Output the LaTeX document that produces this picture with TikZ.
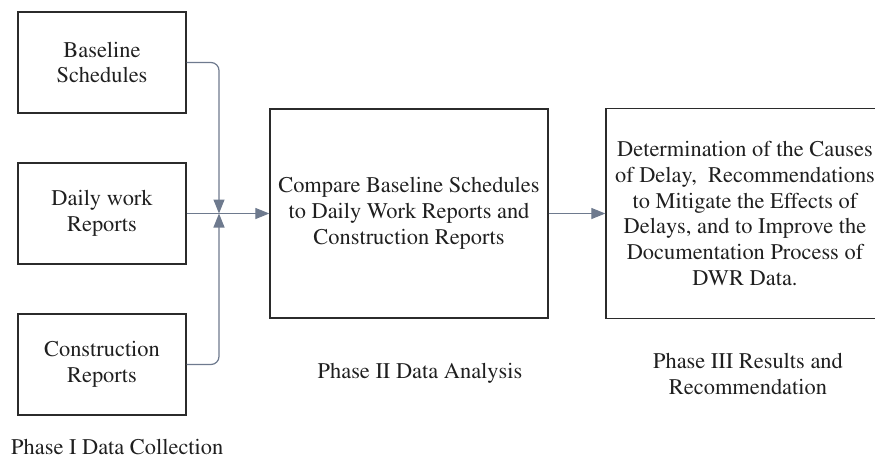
\documentclass[tikz,border=0pt]{standalone}
\usepackage[T1]{fontenc}
\renewcommand{\rmdefault}{ptm}
\usetikzlibrary{arrows.meta}
\definecolor{conncol}{HTML}{6E7A8E}
\definecolor{boxcol}{HTML}{2B2B2B}
\begin{document}
\begin{tikzpicture}[x=1pt,y=-1pt,
  txt/.style={font=\rmfamily\fontsize{22.4}{25.8}\selectfont, align=center, text=black!88},
  box/.style={txt, draw=boxcol, line width=1.3pt, inner sep=0pt},
  conn/.style={draw=conncol, line width=1.2pt, -{Triangle[length=14pt,width=11pt]}}]
\useasboundingbox (0,0) rectangle (875,459);
\clip (0,0) rectangle (875,459);
\node[box, minimum width=168pt, minimum height=101pt] (b1) at (102,62.5) {Baseline\\Schedules};
\node[box, minimum width=168pt, minimum height=101pt] (b2) at (102,213.5) {Daily work\\Reports};
\node[box, minimum width=168pt, minimum height=101pt] (b3) at (102,364.5) {Construction\\Reports};
\node[box, minimum width=278pt, minimum height=209pt] (c) at (409,213.5) {Compare Baseline Schedules\\to Daily Work Reports and\\Construction Reports};
\node[box, minimum width=278pt, minimum height=210pt] (r) at (745,213.5) {Determination of the Causes\\of Delay,\ \ Recommendations\\to Mitigate the Effects of\\Delays, and to Improve the\\Documentation Process of\\DWR Data.};
\coordinate (j) at (219,213.5);
\draw[conn, rounded corners=8pt] (b1.east) -| (j);
\draw[conn, rounded corners=8pt] (b3.east) -| (j);
\draw[conn] (b2.east) -- (c.west);
\draw[conn] (c.east) -- (r.west);
\node[txt, anchor=west, inner sep=0pt] (p1) at (11,447) {Phase I Data Collection};
\node[txt, inner sep=0pt] (p2) at (420,373) {Phase II Data Analysis};
\node[txt, inner sep=0pt] (p3) at (748,374) {Phase III Results and\\Recommendation};
\end{tikzpicture}
\end{document}
